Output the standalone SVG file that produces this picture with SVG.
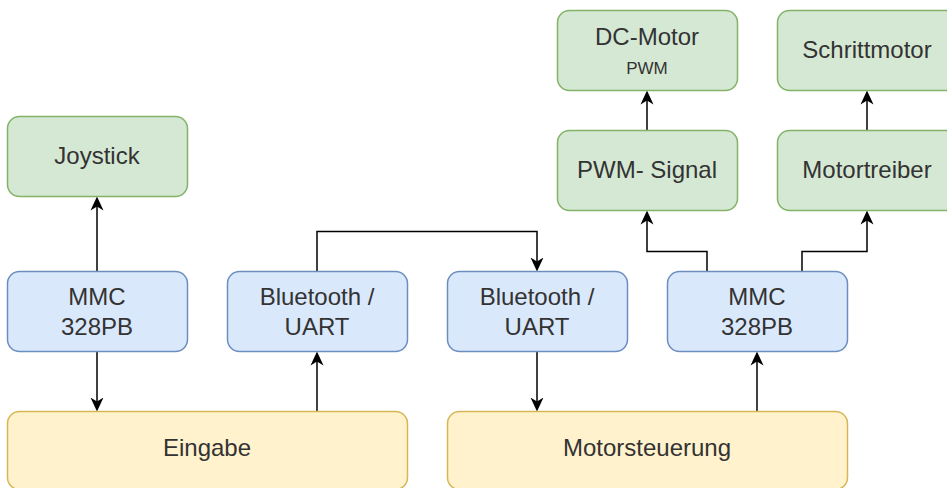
<svg xmlns="http://www.w3.org/2000/svg" width="947" height="488" viewBox="0 0 947 488">
<defs>
<style>
.g{fill:#d5e8d4;stroke:#82b366;stroke-width:1.5}
.b{fill:#dae8fc;stroke:#6c8ebf;stroke-width:1.5}
.y{fill:#fff2cc;stroke:#d6b656;stroke-width:1.5}
text{font-family:"Liberation Sans",Arial,Helvetica,sans-serif;font-size:24px;fill:#333;text-anchor:middle}
text.s{font-size:17px}
.c{fill:none;stroke:#000;stroke-width:1.5;marker-end:url(#arr)}
</style>
<marker id="arr" markerUnits="userSpaceOnUse" markerWidth="15" markerHeight="14" refX="9" refY="7" orient="auto" viewBox="0 0 15 14">
<path d="M14,7 L0,0.5 L4,7 L0,13.5 Z" fill="#000"/>
</marker>
</defs>
<rect width="947" height="488" fill="#fff"/>
<g id="connectors">
<path class="c" d="M97,271.5 V201.5"/>
<path class="c" d="M97,351.5 V406.5"/>
<path class="c" d="M317,411.5 V356.5"/>
<path class="c" d="M317,271.5 V231.5 H537 V266.5"/>
<path class="c" d="M537,351.5 V406.5"/>
<path class="c" d="M757,411.5 V356.5"/>
<path class="c" d="M707,271.5 V251.5 H647 V215.5"/>
<path class="c" d="M802,271.5 V251.5 H867 V215.5"/>
<path class="c" d="M647,130.5 V95.5"/>
<path class="c" d="M867,130.5 V95.5"/>
</g>
<g id="joystick"><rect class="g" x="7.5" y="116.5" width="180" height="80" rx="12"/><text x="97" y="164">Joystick</text></g>
<g id="mmc-left"><rect class="b" x="7.5" y="271.5" width="180" height="80" rx="12"/><text x="97" y="305">MMC</text><text x="97" y="335">328PB</text></g>
<g id="bt-left"><rect class="b" x="227.5" y="271.5" width="180" height="80" rx="12"/><text x="317" y="305">Bluetooth /</text><text x="317" y="335">UART</text></g>
<g id="bt-right"><rect class="b" x="447.5" y="271.5" width="180" height="80" rx="12"/><text x="537" y="305">Bluetooth /</text><text x="537" y="335">UART</text></g>
<g id="mmc-right"><rect class="b" x="667.5" y="271.5" width="180" height="80" rx="12"/><text x="757" y="305">MMC</text><text x="757" y="335">328PB</text></g>
<g id="eingabe"><rect class="y" x="7.5" y="411.5" width="400" height="78" rx="12"/><text x="207" y="456">Eingabe</text></g>
<g id="motorsteuerung"><rect class="y" x="447.5" y="411.5" width="400" height="78" rx="12"/><text x="647" y="456">Motorsteuerung</text></g>
<g id="dc-motor"><rect class="g" x="557.5" y="10.5" width="180" height="80" rx="12"/><text x="647" y="45">DC-Motor</text><text class="s" x="647" y="74">PWM</text></g>
<g id="pwm-signal"><rect class="g" x="557.5" y="130.5" width="180" height="80" rx="12"/><text x="647" y="178">PWM- Signal</text></g>
<g id="schrittmotor"><rect class="g" x="777.5" y="10.5" width="180" height="80" rx="12"/><text x="867" y="58">Schrittmotor</text></g>
<g id="motortreiber"><rect class="g" x="777.5" y="130.5" width="180" height="80" rx="12"/><text x="867" y="178">Motortreiber</text></g>
</svg>
